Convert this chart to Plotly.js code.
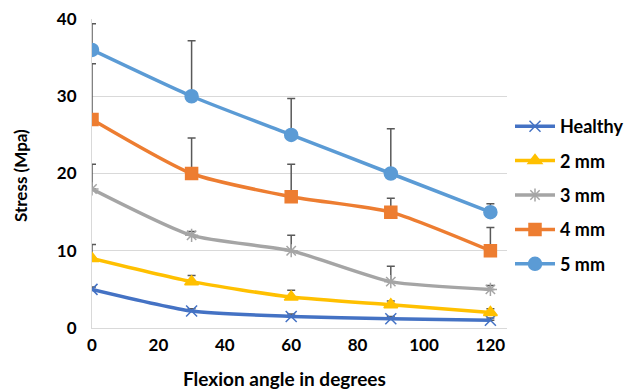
<!DOCTYPE html>
<html>
<head>
<meta charset="utf-8">
<script src="https://cdn.plot.ly/plotly-3.0.1.min.js"></script>
<style>html,body{margin:0;padding:0;background:#fff;}#chart{width:628px;height:390px;}</style>
</head>
<body>
<div id="chart"></div>
<script>
const angles = [0, 30, 60, 90, 120];
const seriesNames = ["Healthy", "2 mm", "3 mm", "4 mm", "5 mm"];
const healthy = [5, 2.2, 1.5, 1.2, 1.0];
const mm2 = [9, 6, 4, 3, 2];
const mm3 = [18, 12, 10, 6, 5];
const mm4 = [27, 20, 17, 15, 10];
const mm5 = [36, 30, 25, 20, 15];
const errHealthy = [0.3, 0.3, 0.3, 0.3, 0.3];
const err2 = [1.8, 0.8, 0.9, 0.5, 0.5];
const err3 = [3.2, 0.5, 2.0, 2.0, 0.5];
const err4 = [7.2, 4.6, 4.2, 1.8, 3.0];
const err5 = [3.4, 7.2, 4.7, 5.8, 1.1];
const xTicks = [0, 20, 40, 60, 80, 100, 120];
const yTicks = [0, 10, 20, 30, 40];
const xTitle = "Flexion angle in degrees";
const yTitle = "Stress (Mpa)";

const values = [healthy, mm2, mm3, mm4, mm5];
const errors = [errHealthy, err2, err3, err4, err5];
const colors = ["#4472C4", "#FFC000", "#A5A5A5", "#ED7D31", "#5B9BD5"];
const symbols = ["x-thin-open", "triangle-up", "asterisk-open", "square", "circle"];
const sizes = [11, 12, 11, 12, 13];

const traces = values.map((v, i) => ({
  type: "scatter",
  mode: "lines+markers",
  name: seriesNames[i],
  legendgroup: "g" + i,
  x: angles,
  y: v,
  line: {color: colors[i], width: 3.5, shape: "spline", smoothing: 0.6},
  marker: {symbol: symbols[i], size: sizes[i], color: colors[i],
           line: {color: colors[i], width: 1.5}},
  error_y: {type: "data", array: errors[i], symmetric: false, arrayminus: [0,0,0,0,0],
            color: "#595959", thickness: 1.5, width: 4}
}));

const font = "Lato, 'Open Sans', sans-serif";
const layout = {
  width: 628, height: 390,
  margin: {l: 92, r: 121, t: 19, b: 62},
  paper_bgcolor: "#fff", plot_bgcolor: "#fff",
  font: {family: font, color: "#000"},
  showlegend: true,
  legend: {
    xref: "container", yref: "container",
    x: 510 / 628, y: 1 - 108 / 390, xanchor: "left", yanchor: "top",
    font: {family: font, size: 18, weight: "bold", color: "#000"},
    tracegroupgap: 8, itemwidth: 40, traceorder: "grouped"
  },
  xaxis: {
    range: [0, 125], tickvals: xTicks, ticktext: xTicks.map(String),
    showgrid: false, showline: true, linecolor: "#d9d9d9", linewidth: 1,
    zeroline: false, ticks: "outside", ticklen: 2, tickcolor: "rgba(0,0,0,0)",
    tickfont: {family: font, size: 17, weight: "bold"}
  },
  yaxis: {
    range: [0, 40], tickvals: yTicks, ticktext: yTicks.map(String),
    showgrid: true, gridcolor: "#d9d9d9", gridwidth: 1,
    showline: true, linecolor: "#d9d9d9", linewidth: 1,
    zeroline: false, ticks: "outside", ticklen: 11, tickcolor: "rgba(0,0,0,0)",
    tickfont: {family: font, size: 17, weight: "bold"}
  },
  annotations: [{
    text: xTitle, xref: "paper", yref: "paper",
    x: (284 - 92) / 415, y: 0, yshift: -50, xanchor: "center", yanchor: "middle",
    showarrow: false, font: {family: font, size: 19, weight: "bold", color: "#000"}
  }, {
    text: yTitle, xref: "paper", yref: "paper", textangle: -90,
    x: 0, xshift: -72, y: (328 - 176) / 309, xanchor: "center", yanchor: "middle",
    showarrow: false, font: {family: font, size: 17, weight: "bold", color: "#000"}
  }]
};

Plotly.newPlot("chart", traces, layout, {displayModeBar: false, staticPlot: true});
</script>
</body>
</html>
